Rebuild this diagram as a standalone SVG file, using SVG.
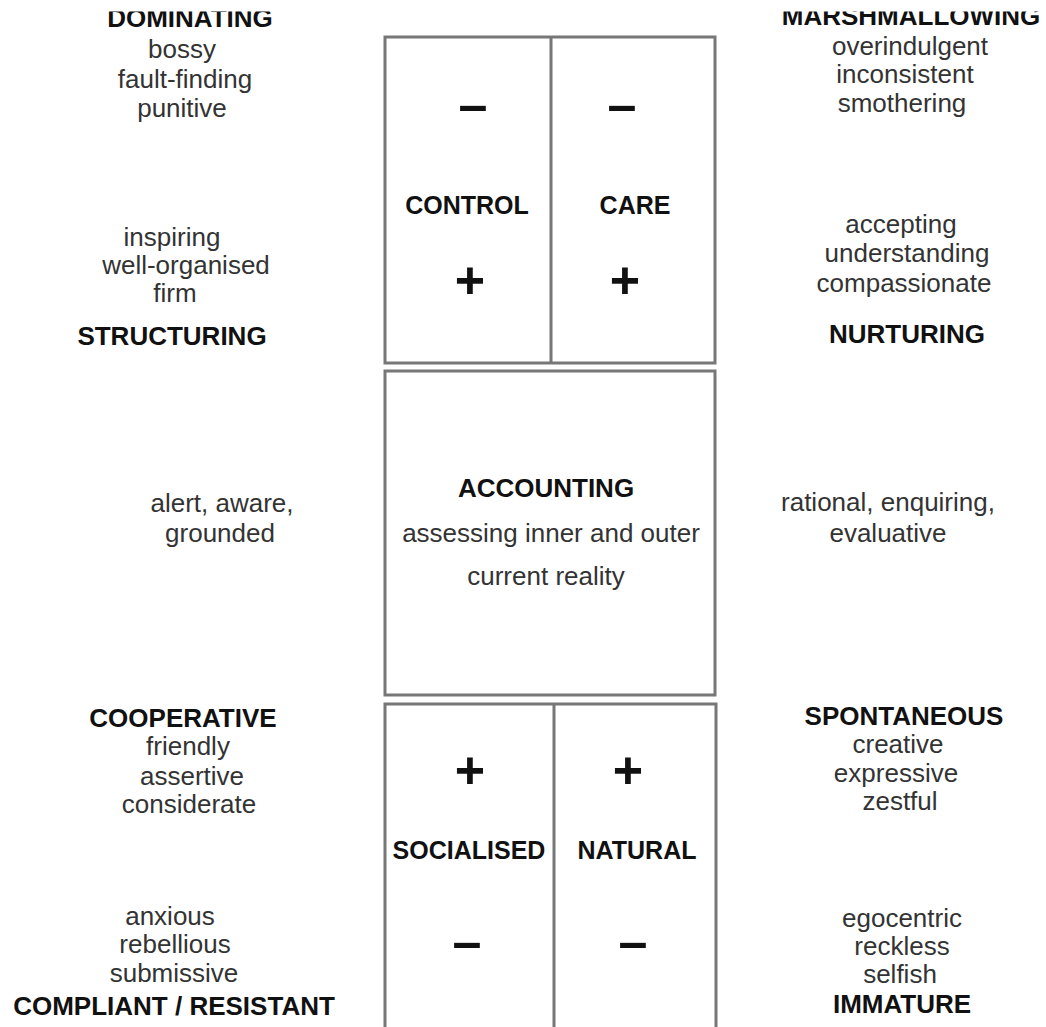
<svg xmlns="http://www.w3.org/2000/svg" width="1046" height="1027" viewBox="0 0 1046 1027">
<style>
  text { font-family: "Liberation Sans", Arial, sans-serif; text-anchor: middle; }
  .r { font-size: 26px; fill: #333; }
  .b { font-size: 26px; font-weight: bold; fill: #111; }
  .bi { font-size: 25px; font-weight: bold; fill: #111; }
  .sg { font-size: 52px; font-weight: bold; fill: #111; }
  .box { fill: #fff; stroke: #777; stroke-width: 3; }
  .div { stroke: #777; stroke-width: 3; fill: none; }
</style>
<defs>
  <clipPath id="cut"><rect x="0" y="11.5" width="1046" height="1016"/></clipPath>
</defs>
<rect width="1046" height="1027" fill="#fff"/>

<g id="parent-box">
  <rect class="box" x="385" y="37" width="330" height="326"/>
  <line class="div" x1="551" y1="37" x2="551" y2="363"/>
  <text class="sg" x="473" y="122">–</text>
  <text class="sg" x="622" y="122">–</text>
  <text class="bi" x="467" y="214">CONTROL</text>
  <text class="bi" x="635" y="214">CARE</text>
  <text class="sg" x="470" y="298">+</text>
  <text class="sg" x="625" y="298">+</text>
</g>

<g id="adult-box">
  <rect class="box" x="385" y="371" width="330" height="324"/>
  <text class="b" x="546" y="497">ACCOUNTING</text>
  <text class="r" x="551" y="542">assessing inner and outer</text>
  <text class="r" x="546" y="585">current reality</text>
</g>

<g id="child-box">
  <path class="box" d="M385 1030 V704 H716 V1030"/>
  <line class="div" x1="554" y1="704" x2="554" y2="1030"/>
  <text class="sg" x="470" y="788">+</text>
  <text class="sg" x="628" y="788">+</text>
  <text class="bi" x="469" y="859">SOCIALISED</text>
  <text class="bi" x="637" y="859">NATURAL</text>
  <text class="sg" x="467" y="959">–</text>
  <text class="sg" x="633" y="959">–</text>
</g>

<g id="connectors"></g>

<g id="dominating" clip-path="url(#cut)">
  <text class="b" x="190" y="27">DOMINATING</text>
  <text class="r" x="182" y="58">bossy</text>
  <text class="r" x="185" y="88">fault-finding</text>
  <text class="r" x="182" y="117">punitive</text>
</g>

<g id="structuring">
  <text class="r" x="172" y="246">inspiring</text>
  <text class="r" x="186" y="274">well-organised</text>
  <text class="r" x="175" y="302">firm</text>
  <text class="b" x="172" y="345">STRUCTURING</text>
</g>

<g id="marshmallowing" clip-path="url(#cut)">
  <text class="b" x="911" y="25">MARSHMALLOWING</text>
  <text class="r" x="910" y="55">overindulgent</text>
  <text class="r" x="905" y="83">inconsistent</text>
  <text class="r" x="902" y="112">smothering</text>
</g>

<g id="nurturing">
  <text class="r" x="901" y="233">accepting</text>
  <text class="r" x="907" y="262">understanding</text>
  <text class="r" x="904" y="292">compassionate</text>
  <text class="b" x="907" y="343">NURTURING</text>
</g>

<g id="adult-left">
  <text class="r" x="222" y="512">alert, aware,</text>
  <text class="r" x="220" y="542">grounded</text>
</g>

<g id="adult-right">
  <text class="r" x="888" y="511">rational, enquiring,</text>
  <text class="r" x="888" y="542">evaluative</text>
</g>

<g id="cooperative">
  <text class="b" x="183" y="727">COOPERATIVE</text>
  <text class="r" x="188" y="755">friendly</text>
  <text class="r" x="192" y="785">assertive</text>
  <text class="r" x="189" y="813">considerate</text>
</g>

<g id="compliant">
  <text class="r" x="170" y="925">anxious</text>
  <text class="r" x="175" y="953">rebellious</text>
  <text class="r" x="174" y="982">submissive</text>
  <text class="b" x="174" y="1015">COMPLIANT / RESISTANT</text>
</g>

<g id="spontaneous">
  <text class="b" x="904" y="725">SPONTANEOUS</text>
  <text class="r" x="898" y="753">creative</text>
  <text class="r" x="896" y="782">expressive</text>
  <text class="r" x="900" y="810">zestful</text>
</g>

<g id="immature">
  <text class="r" x="902" y="927">egocentric</text>
  <text class="r" x="902" y="955">reckless</text>
  <text class="r" x="900" y="983">selfish</text>
  <text class="b" x="902" y="1013">IMMATURE</text>
</g>
</svg>
